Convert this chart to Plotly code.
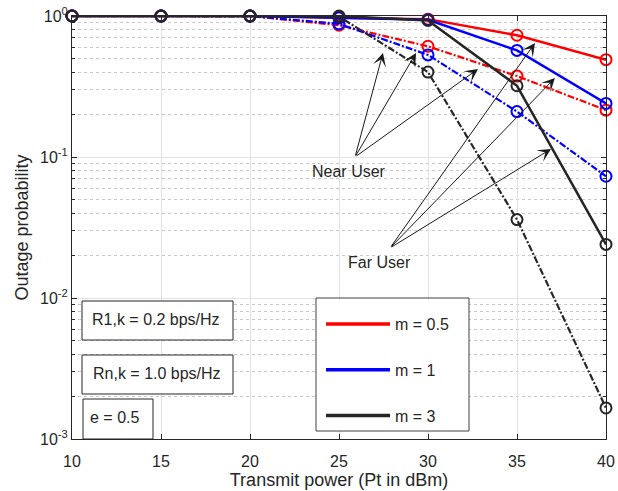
import plotly.graph_objects as go

# ---------------- data ----------------
tx_power = [10, 15, 20, 25, 30, 35, 40]

far_m05 = [1, 1, 1, 0.97, 0.95, 0.73, 0.49]
near_m05 = [1, 1, 1, 0.86, 0.61, 0.375, 0.215]
far_m1 = [1, 1, 1, 0.97, 0.94, 0.57, 0.24]
near_m1 = [1, 1, 1, 0.88, 0.53, 0.21, 0.073]
far_m3 = [1, 1, 1, 1.0, 0.93, 0.32, 0.024]
near_m3 = [1, 1, 1, 0.99, 0.40, 0.036, 0.00166]

legend_labels = ["m = 0.5", "m = 1", "m = 3"]
series_colors = ["#ff0000", "#0000ff", "#262626"]

x_tick_vals = [10, 15, 20, 25, 30, 35, 40]
y_tick_vals = [0.001, 0.01, 0.1, 1]
y_tick_text = ["10<sup>-3</sup>", "10<sup>-2</sup>", "10<sup>-1</sup>", "10<sup>0</sup>"]

info_texts = ["R1,k = 0.2 bps/Hz", "Rn,k = 1.0 bps/Hz", "e = 0.5"]

# annotation arrows (x in dBm, y in log10 units)
near_label_pos = (25.56, -1.10)
near_tail = (25.90, -1.0)
near_heads = [(27.47, -0.262), (29.33, -0.262), (32.81, -0.376)]
far_label_pos = (27.30, -1.75)
far_tail = (27.87, -1.645)
far_heads = [(36.01, -0.191), (37.13, -0.44), (36.91, -0.943)]

# ---------------- layout helpers ----------------
W, H = 618, 491
ML, MR, MT, MB = 72, 12, 16, 52
PW, PH = W - ML - MR, H - MT - MB


def px(xp):
    return (xp - ML) / PW


def py(yp):
    return 1 - (yp - MT) / PH


fig = go.Figure()

far_series = [far_m05, far_m1, far_m3]
near_series = [near_m05, near_m1, near_m3]

for far, near, col in zip(far_series, near_series, series_colors):
    fig.add_trace(go.Scatter(
        x=tx_power, y=near, mode="lines+markers", showlegend=False,
        line=dict(color=col, width=2.2, dash="7px,2px,2px,2px"),
        marker=dict(symbol="circle-open", size=11, color=col, line=dict(width=2, color=col)),
        cliponaxis=False,
    ))
    fig.add_trace(go.Scatter(
        x=tx_power, y=far, mode="lines+markers", showlegend=False,
        line=dict(color=col, width=2.5),
        marker=dict(symbol="circle-open", size=11, color=col, line=dict(width=2, color=col)),
        cliponaxis=False,
    ))

for lab, col in zip(legend_labels, series_colors):
    fig.add_trace(go.Scatter(
        x=[None], y=[None], mode="lines", name=lab, legendgroup=lab,
        line=dict(color=col, width=3.5),
    ))

shapes = []
annotations = []

# legend frame
shapes.append(dict(type="rect", xref="paper", yref="paper",
                   x0=px(316), x1=px(469), y0=py(431), y1=py(298),
                   line=dict(color="#404040", width=1), fillcolor="white", layer="above"))

# info boxes
boxes = [(82, 233, 301, 340, 90, 319), (82, 233, 355, 394, 91, 373), (83, 153, 399, 439, 88, 417)]
for (x0, x1, y0, y1, tx, ty), txt in zip(boxes, info_texts):
    shapes.append(dict(type="rect", xref="paper", yref="paper",
                       x0=px(x0), x1=px(x1), y0=py(y1), y1=py(y0),
                       line=dict(color="#262626", width=1), fillcolor="white", layer="above"))
    annotations.append(dict(text=txt, xref="paper", yref="paper", x=px(tx), y=py(ty),
                            xanchor="left", yanchor="middle", showarrow=False,
                            font=dict(size=16, color="#262626")))

# arrows
for (hx, hy) in near_heads:
    annotations.append(dict(text="", x=hx, y=hy, xref="x", yref="y",
                            ax=near_tail[0], ay=near_tail[1], axref="x", ayref="y",
                            showarrow=True, arrowhead=3, arrowsize=2.2, arrowwidth=1,
                            arrowcolor="#1a1a1a", standoff=0, startstandoff=0))
for (hx, hy) in far_heads:
    annotations.append(dict(text="", x=hx, y=hy, xref="x", yref="y",
                            ax=far_tail[0], ay=far_tail[1], axref="x", ayref="y",
                            showarrow=True, arrowhead=3, arrowsize=2.2, arrowwidth=1,
                            arrowcolor="#1a1a1a", standoff=0, startstandoff=0))
annotations.append(dict(text="Near User", x=near_label_pos[0], y=near_label_pos[1],
                        xref="x", yref="y", showarrow=False, font=dict(size=16, color="#262626")))
annotations.append(dict(text="Far User", x=far_label_pos[0], y=far_label_pos[1],
                        xref="x", yref="y", showarrow=False, font=dict(size=16, color="#262626")))

minor_y = [k * 10.0 ** e for e in (-3, -2, -1) for k in range(2, 10)]

fig.update_layout(
    width=W, height=H,
    margin=dict(l=ML, r=MR, t=MT, b=MB, pad=0, autoexpand=False),
    paper_bgcolor="white", plot_bgcolor="white",
    font=dict(family="Liberation Sans, Arial, sans-serif", size=16, color="#262626"),
    showlegend=True,
    legend=dict(x=px(321), y=py(307), xanchor="left", yanchor="top",
                bgcolor="rgba(0,0,0,0)", borderwidth=0, tracegroupgap=22,
                itemwidth=64, font=dict(size=16, color="#262626")),
    shapes=shapes,
    annotations=annotations,
)

fig.update_xaxes(
    range=[10, 40], tickvals=x_tick_vals, automargin=False,
    showgrid=True, gridcolor="#e2e2e2", gridwidth=1,
    showline=True, linecolor="#262626", linewidth=1, mirror="allticks",
    ticks="inside", ticklen=5, tickcolor="#262626", zeroline=False,
    ticklabelstandoff=8,
    tickfont=dict(size=16),
    title=dict(text="Transmit power (Pt in dBm)", font=dict(size=18), standoff=4),
)
fig.update_yaxes(
    type="log", range=[-3, 0], tickvals=y_tick_vals, ticktext=y_tick_text, automargin=False,
    showgrid=True, gridcolor="#e2e2e2", gridwidth=1,
    showline=True, linecolor="#262626", linewidth=1, mirror="allticks",
    ticks="inside", ticklen=5, tickcolor="#262626", zeroline=False,
    tickfont=dict(size=16),
    minor=dict(tickvals=minor_y, ticks="inside", ticklen=3, tickcolor="#262626",
               showgrid=True, gridcolor="#c8c8c8", griddash="dot", gridwidth=1),
    title=dict(text="Outage probability", font=dict(size=18), standoff=6),
)

fig.write_html("out.html")
